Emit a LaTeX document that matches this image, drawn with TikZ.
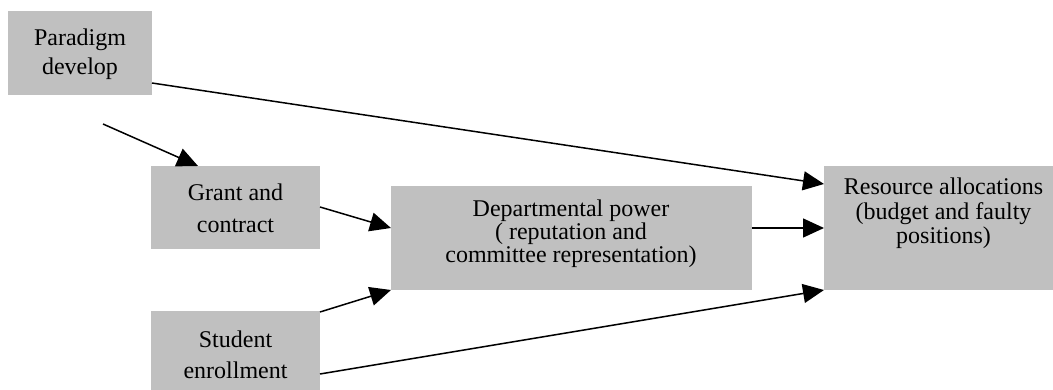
\documentclass[tikz,border=0pt]{standalone}
\usepackage{fontspec}
\setmainfont{Liberation Serif}
\usetikzlibrary{arrows.meta,calc}
\definecolor{boxgray}{RGB}{192,192,192}
\begin{document}
\begin{tikzpicture}[x=1pt,y=-1pt,
  box/.style={draw=none,fill=boxgray,inner sep=0pt,outer sep=0pt},
  lbl/.style={anchor=base,align=center,inner sep=0pt},
  conn/.style={line width=1.5pt,-{Triangle[length=21pt,width=19pt]}}]
\useasboundingbox (0,0) rectangle (1053,390);
\node[box,minimum width=144pt,minimum height=84pt] (par) at (80,53) {};
\node[box,minimum width=169pt,minimum height=83pt] (grant) at (235.5,207.5) {};
\node[box,minimum width=361pt,minimum height=104pt] (dept) at (571.5,238) {};
\node[box,minimum width=169pt,minimum height=79pt] (stud) at (235.5,350.5) {};
\node[box,minimum width=239pt,minimum height=124pt] (res) at (943.5,228) {};
\node[lbl,font=\fontsize{24}{29}\selectfont] (tpar) at (80,75) {Paradigm\\develop};
\node[lbl,font=\fontsize{24}{32}\selectfont] (tgrant) at (235.5,233) {Grant and\\contract};
\node[lbl,font=\fontsize{24}{31}\selectfont] (tstud) at (235.5,378) {Student\\enrollment};
\node[lbl,font=\fontsize{24}{23.5}\selectfont] (tdept) at (571,263) {Departmental power\\( reputation and\\committee representation)};
\node[lbl,font=\fontsize{24}{24.5}\selectfont] (tres) at (943.5,244) {Resource allocations\\(budget and faulty\\positions)};
\coordinate (c0) at (103,124);
\draw[conn] ($(par.north east)+(0,72)$) -- ($(res.north west)+(0,18)$);
\draw[conn] (c0) -- ($(grant.north west)+(47,0)$);
\draw[conn] ($(grant.north east)+(0,41)$) -- ($(dept.north west)+(0,42)$);
\draw[conn] ($(stud.north east)+(0,1)$) -- (dept.south west);
\draw[conn] ($(dept.north east)+(0,42)$) -- ($(res.north west)+(0,62)$);
\draw[conn] ($(stud.north east)+(0,63)$) -- (res.south west);
\end{tikzpicture}
\end{document}
